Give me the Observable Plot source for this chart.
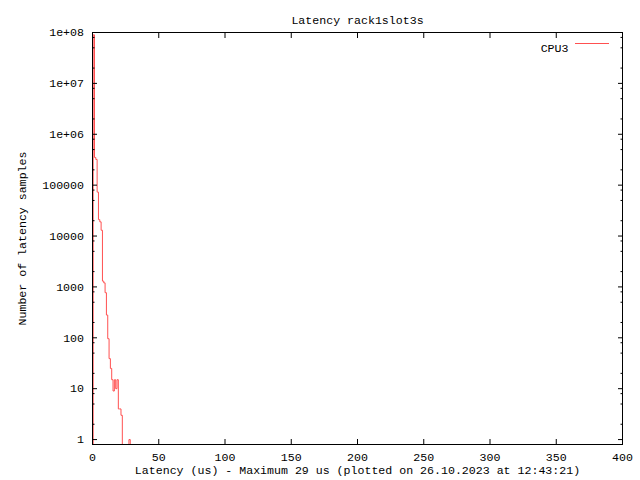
<!DOCTYPE html>
<html><head><meta charset="utf-8">
<script src="https://cdn.jsdelivr.net/npm/d3@7"></script>
<script src="https://cdn.jsdelivr.net/npm/@observablehq/plot@0.6"></script>
<style>html,body{margin:0;padding:0;background:#fff} svg{display:block}</style>
</head><body><div id="chart"></div>
<script>
const title = "Latency rack1slot3s";
const xLabel = "Latency (us) - Maximum 29 us (plotted on 26.10.2023 at 12:43:21)";
const yLabel = "Number of latency samples";
const seriesName = "CPU3";

// histogram: latency (us) and number of samples
const latency = [0,1,2,3,4,5,6,7,8,9,10,11,12,13,14,15,16,17,18,19,20,21,22,23,24,25,26,27,28,29];
const samples = [0,90000000,350000,320000,73000,21000,19000,13000,1300,1200,770,280,96,39,25,15,9,15,10,15,4,4,3,0,0,0,0,0,1,0];

const xTicks = [0,50,100,150,200,250,300,350,400];
const yTicks = [1,10,100,1000,10000,100000,1e6,1e7,1e8];
const yTickLabels = ["1","10","100","1000","10000","100000","1e+06","1e+07","1e+08"];
const yMinorMultipliers = [2,5,8];

const lineColor = "#ff5050";
const yLabelMap = new Map(yTicks.map((t, i) => [t, yTickLabels[i]]));
const yMinor = yTicks.slice(0, -1).flatMap(t => yMinorMultipliers.map(m => m * t));

const font = "Liberation Mono, DejaVu Sans Mono, monospace";

const svg = Plot.plot({
  width: 640,
  height: 480,
  marginTop: 32,
  marginLeft: 92,
  marginRight: 18,
  marginBottom: 36,
  style: {fontFamily: font, fontSize: "11.6px", background: "#fff", color: "#000"},
  x: {domain: [0, 400]},
  y: {type: "log", domain: [0.8, 1e8]},
  marks: [
    Plot.line(latency, {
      x: d => d,
      y: (d, i) => Math.max(samples[i], 0.1),
      curve: "step",
      stroke: lineColor,
      strokeWidth: 1,
      clip: true
    }),
    Plot.axisX(xTicks, {anchor: "bottom", tickSize: -5, tickPadding: 13, label: null, tickFormat: d => String(d)}),
    Plot.axisX(xTicks, {anchor: "top", tickSize: -5, fill: "none", label: null}),
    Plot.axisY(yTicks, {anchor: "left", tickSize: -5, tickPadding: 13.5, label: null, tickFormat: d => yLabelMap.get(d)}),
    Plot.axisY(yTicks, {anchor: "right", tickSize: -5, fill: "none", label: null}),
    Plot.axisY(yMinor, {anchor: "left", tickSize: -2.5, fill: "none", label: null}),
    Plot.axisY(yMinor, {anchor: "right", tickSize: -2.5, fill: "none", label: null}),
    Plot.frame({stroke: "#000"}),
    Plot.text([title], {frameAnchor: "top", dy: -17, fill: "#000"}),
    Plot.text([xLabel], {frameAnchor: "bottom", dy: 29, fill: "#000"}),
    Plot.text([yLabel], {frameAnchor: "left", rotate: -90, dx: -70, textAnchor: "middle", fill: "#000"}),
    Plot.text([seriesName], {frameAnchor: "top-right", dx: -54, dy: 11, textAnchor: "end", fill: "#000"})
  ]
});

// legend sample line
d3.select(svg).append("line")
  .attr("x1", 575).attr("x2", 609).attr("y1", 43.5).attr("y2", 43.5)
  .attr("stroke", lineColor).attr("stroke-width", 1);

document.getElementById("chart").appendChild(svg);
</script>
</body></html>
